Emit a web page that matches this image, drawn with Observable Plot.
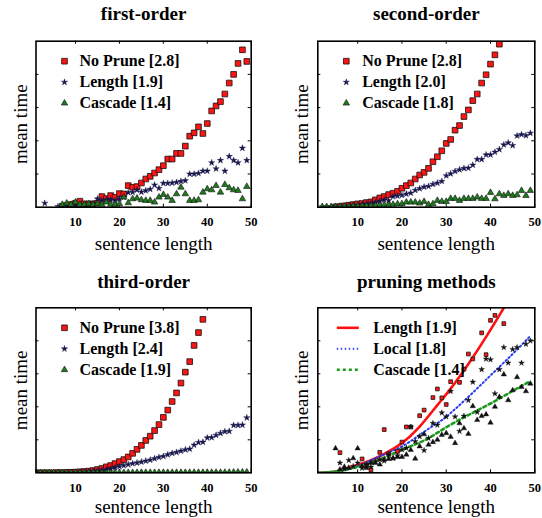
<!DOCTYPE html>
<html><head><meta charset="utf-8">
<script src="https://cdn.jsdelivr.net/npm/d3@7"></script>
<script src="https://cdn.jsdelivr.net/npm/@observablehq/plot@0.6"></script>
<style>
body{margin:0;background:#fff}
#chart{position:relative;width:542px;height:518px;overflow:hidden;background:#fff}
#chart svg{position:absolute}
</style>
</head><body><div id="chart"></div>
<script>
// ---------- axis ticks ----------
const xTicks = [10, 20, 30, 40, 50];
const yTicks = [1, 2, 3, 4];

// ---------- first-order ----------
const firstNoPruneX = [7,8,9,10,11,12,13,14,15,16,17,18,19,20,21,22,23,24,25,26,27,28,29,30,31,32,33,34,35,36,37,38,39,40,41,42,43,44,45,46,47,48,49];
const firstNoPrune  = [0.03,0.05,0.08,0.12,0.18,0.1,0.1,0.1,0.12,0.32,0.26,0.35,0.3,0.41,0.4,0.65,0.6,0.62,0.73,0.85,0.93,1.03,1.13,1.25,1.45,1.45,1.62,1.62,1.84,2.14,2.24,2.42,2.22,2.52,2.9,3.05,3.18,3.41,3.74,4.0,4.33,4.74,4.39];
const firstLengthX = [3,6,7,8,9,10,11,12,13,14,15,16,17,18,19,20,21,22,23,24,25,26,27,28,29,30,31,32,33,34,35,36,37,38,39,40,41,42,43,44,45,46,47,48,49];
const firstLength  = [0.12,0.02,0.03,0.04,0.05,0.06,0.07,0.06,0.08,0.1,0.25,0.2,0.22,0.22,0.2,0.25,0.3,0.44,0.45,0.52,0.46,0.5,0.54,0.67,0.57,0.72,0.72,0.73,0.75,0.78,0.8,1.0,1.0,1.02,1.09,1.09,1.34,1.16,1.41,1.09,1.53,1.41,1.34,1.78,1.41];
const firstCascadeX = [7,8,9,10,11,12,13,14,15,16,17,18,19,20,21,22,23,24,25,26,27,28,29,30,31,32,33,34,35,36,37,38,39,40,41,42,43,44,45,46,47,48,49];
const firstCascade  = [0.08,0.12,0.08,0.15,0.08,0.08,0.1,0.08,0.1,0.08,0.15,0.08,0.08,0.1,0.3,0.13,0.25,0.27,0.22,0.2,0.2,0.15,0.3,0.38,0.3,0.2,0.4,0.6,0.4,0.2,0.2,0.22,0.45,0.55,0.52,0.65,0.45,0.68,0.58,0.52,0.5,0.25,0.62];

// ---------- second-order ----------
const secondNoPruneX = [5,6,7,8,9,10,11,12,13,14,15,16,17,18,19,20,21,22,23,24,25,26,27,28,29,30,31,32,33,34,35,36,37,38,39,40,41,42];
const secondNoPrune  = [0.01,0.02,0.04,0.06,0.08,0.1,0.11,0.14,0.16,0.22,0.28,0.32,0.38,0.42,0.48,0.57,0.65,0.73,0.85,0.97,1.05,1.17,1.37,1.52,1.7,1.92,2.04,2.32,2.46,2.73,2.93,3.21,3.41,3.74,3.99,4.31,4.59,4.91];
const secondLengthX = [2,3,4,5,6,7,8,9,10,11,12,13,14,15,16,17,18,19,20,21,22,23,24,25,26,27,28,29,30,31,32,33,34,35,36,37,38,39,40,41,42,43,44,45,46,47,48,49];
const secondLength  = [0.01,0.01,0.01,0.02,0.02,0.03,0.04,0.05,0.06,0.08,0.1,0.12,0.15,0.18,0.22,0.2,0.32,0.34,0.36,0.4,0.43,0.51,0.56,0.61,0.63,0.69,0.73,0.78,0.95,1.01,1.08,1.13,1.17,1.18,1.27,1.44,1.44,1.58,1.58,1.66,1.74,1.88,1.94,1.86,2.15,2.19,2.16,2.23];
const secondCascadeX = [2,3,4,5,6,7,8,9,10,11,12,13,14,15,16,17,18,19,20,21,22,23,24,25,26,27,28,29,30,31,32,33,34,35,36,37,38,39,40,41,42,43,44,45,46,47,48,49];
const secondCascade  = [0.01,0.01,0.01,0.01,0.02,0.02,0.02,0.03,0.03,0.04,0.04,0.05,0.05,0.06,0.06,0.08,0.08,0.1,0.1,0.15,0.15,0.15,0.12,0.17,0.08,0.1,0.2,0.17,0.17,0.26,0.26,0.2,0.26,0.26,0.26,0.3,0.26,0.26,0.44,0.25,0.4,0.35,0.4,0.35,0.37,0.5,0.35,0.5];

// ---------- third-order ----------
const thirdNoPruneX = [1,2,3,4,5,6,7,8,9,10,11,12,13,14,15,16,17,18,19,20,21,22,23,24,25,26,27,28,29,30,31,32,33,34,35,36,37,38,39];
const thirdNoPrune  = [0,0,0,0,0,0.003,0.005,0.01,0.015,0.02,0.03,0.04,0.05,0.07,0.1,0.13,0.18,0.22,0.28,0.34,0.4,0.48,0.59,0.71,0.83,0.98,1.11,1.28,1.46,1.68,1.9,2.16,2.42,2.72,3.05,3.37,3.86,4.25,4.65];
const thirdLengthX = [1,2,3,4,5,6,7,8,9,10,11,12,13,14,15,16,17,18,19,20,21,22,23,24,25,26,27,28,29,30,31,32,33,34,35,36,37,38,39,40,41,42,43,44,45,46,47,48,49];
const thirdLength  = [0,0,0,0,0.002,0.003,0.005,0.008,0.01,0.015,0.02,0.025,0.035,0.045,0.06,0.08,0.1,0.13,0.16,0.19,0.22,0.25,0.28,0.3,0.33,0.36,0.39,0.43,0.47,0.5,0.55,0.59,0.62,0.66,0.7,0.72,0.84,0.92,0.93,1.06,1.07,1.14,1.2,1.25,1.26,1.44,1.44,1.45,1.67];
const thirdCascadeX = [1,2,3,4,5,6,7,8,9,10,11,12,13,14,15,16,17,18,19,20,21,22,23,24,25,26,27,28,29,30,31,32,33,34,35,36,37,38,39,40,41,42,43,44,45,46,47,48,49];
const thirdCascade  = [0,0,0,0,0,0,0,0,0,0.003,0.003,0.003,0.004,0.004,0.004,0.005,0.005,0.005,0.005,0.005,0.005,0.005,0.005,0.005,0.006,0.006,0.006,0.006,0.006,0.006,0.006,0.007,0.007,0.007,0.007,0.007,0.008,0.008,0.008,0.008,0.009,0.009,0.01,0.01,0.012,0.015,0.018,0.02,0.02];

// ---------- pruning methods ----------
const pruneLengthX = [6,11,12,13,15,16,17,19,20,21,22,24,25,27,28,29,30,31,33,34,35,36,38,39,40,41,43];
const pruneLength  = [0.61,0.42,0.22,0.09,0.62,1.31,0.58,0.65,0.93,1.39,1.39,1.73,1.9,2.28,2.54,2.27,2.07,2.76,2.74,3.14,3.6,3.45,4.24,3.58,4.62,4.77,4.52];
const pruneLocalX = [6,7,8,9,10,11,12,13,14,15,16,17,18,19,20,21,22,23,24,25,26,27,28,29,30,31,32,33,34,35,36,37,38,39,40,41,42,43,44,45,46,47,48,49];
const pruneLocal  = [0.3,0.12,0.38,0.2,0.3,0.14,0.25,0.18,0.34,0.4,0.36,0.55,0.44,0.52,0.7,0.75,1.39,0.95,1.1,0.68,1.05,1.5,1.45,1.82,1.7,2.47,1.7,1.26,1.72,2.2,2.75,1.84,3.13,3.45,3.43,2.4,3.13,3.8,3.33,3.74,3.8,3.33,3.9,4.0];
const pruneCascadeX = [5,6,7,8,9,10,11,12,13,14,15,16,17,18,19,20,21,22,23,24,25,26,27,28,29,30,31,32,33,34,35,36,37,38,39,40,41,42,43,44,45,46,47,48,49];
const pruneCascade  = [0.74,0.1,0.18,0.15,0.44,0.74,0.2,0.15,0.3,0.3,0.25,0.4,0.42,0.44,0.48,0.48,0.55,0.69,0.43,0.8,1.17,0.85,0.93,1.0,1.15,1.2,1.09,0.9,1.5,1.35,1.18,2.02,1.6,1.72,1.77,1.52,2.0,2.3,2.98,2.2,2.5,2.9,2.6,2.47,2.7];
// fitted curves
const fitLengthX = [1,5,10,13,16,20,24,28,31,35,39,43,44];
const fitLength  = [0,0.04,0.24,0.38,0.57,0.9,1.4,2.05,2.55,3.3,4.12,5.0,5.25];
const fitLocalX  = [1,5,10,15,20,24,27,30,35,40,45,49];
const fitLocal   = [0,0.03,0.2,0.5,0.8,1.15,1.42,1.7,2.3,2.95,3.6,4.15];
const fitCascadeX = [1,5,10,16,20,25,30,35,40,45,49];
const fitCascade  = [0,0.04,0.18,0.46,0.7,0.98,1.38,1.75,2.1,2.48,2.78];

// ---------- styling ----------
const FONT = "'Liberation Serif', 'Times New Roman', serif";
const RED = "#ff1414", NAVY = "#16164c", GREEN = "#1f7a1f";
const W = 271, H = 259;
const sq  = {symbol: "square",   r: 3.2, fill: RED,   stroke: "#111", strokeWidth: 0.8};
const st  = {symbol: "star",     r: 2.0, fill: NAVY,  stroke: NAVY,   strokeWidth: 0.4};
const tri = {symbol: "triangle", r: 2.4, fill: GREEN, stroke: "#111", strokeWidth: 0.6};
const sq4  = {symbol: "square",   r: 2.1, fill: RED,   stroke: "#111", strokeWidth: 0.8};
const st4  = {symbol: "star",     r: 1.8, fill: "#111", stroke: "#111", strokeWidth: 0.4};
const tri4 = {symbol: "triangle", r: 2.0, fill: "#111", stroke: "#111", strokeWidth: 0.4};
const seg = {draw(ctx) { ctx.moveTo(-11, 0); ctx.lineTo(11, 0); }};

function pairs(xs, ys) { return xs.map((x, i) => ({x, y: ys[i]})); }

function panel(cfg) {
  const fw = W - cfg.mL - cfg.mR, fh = H - cfg.mT - cfg.mB;
  const marks = [
    Plot.tickX(xTicks, {x: d => d, insetTop: fh - 3, stroke: "#000"}),
    Plot.tickX(xTicks, {x: d => d, insetBottom: fh - 3, stroke: "#000"}),
    Plot.tickY(yTicks, {y: d => d, insetRight: fw - 3, stroke: "#000"}),
    Plot.tickY(yTicks, {y: d => d, insetLeft: fw - 3, stroke: "#000"})
  ];
  (cfg.lines || []).forEach(l => marks.push(
    Plot.line(pairs(l.x, l.y), {x: "x", y: "y", curve: "natural", clip: true,
      stroke: l.stroke, strokeWidth: l.sw, strokeDasharray: l.dash})));
  cfg.series.forEach(s => marks.push(
    Plot.dot(pairs(s.x, s.y), {x: "x", y: "y", clip: true, ...s.style})));
  marks.push(Plot.frame({stroke: "#000", strokeWidth: 1.6}));
  marks.push(Plot.axisX({ticks: xTicks, tickSize: 0, tickPadding: 10, fontSize: 12.5,
    fontWeight: "bold", label: null}));
  marks.push(Plot.text([cfg.title], {text: d => d, frameAnchor: "top", lineAnchor: "middle",
    dy: cfg.titleDy, fontSize: 19, fontWeight: "bold"}));
  marks.push(Plot.text(["sentence length"], {text: d => d, frameAnchor: "bottom", lineAnchor: "middle",
    dy: cfg.xlabDy, dx: 10, fontSize: 19}));
  marks.push(Plot.text(["mean time"], {text: d => d, frameAnchor: "left", textAnchor: "middle",
    lineAnchor: "middle", dx: -15.5, rotate: -90, fontSize: 19}));
  cfg.legend.forEach((it, i) => {
    const dy = 20 + i * 21;
    if (it.line) {
      marks.push(Plot.dot([0], {frameAnchor: "top-left", dx: 30, dy, symbol: seg, fill: "none",
        stroke: it.line.stroke, strokeWidth: it.line.sw, strokeDasharray: it.line.dash}));
    } else {
      marks.push(Plot.dot([0], {frameAnchor: "top-left", dx: 28.5, dy, ...it.style}));
    }
    marks.push(Plot.text([it.label], {text: d => d, frameAnchor: "top-left", dx: cfg.legTextX, dy,
      textAnchor: "start", lineAnchor: "middle", fontSize: 16, fontWeight: "bold"}));
  });
  const svg = Plot.plot({
    width: W, height: H,
    marginLeft: cfg.mL, marginRight: cfg.mR, marginTop: cfg.mT, marginBottom: cfg.mB,
    x: {domain: [1, 50], label: null},
    y: {domain: [0, 5], axis: null},
    style: {fontFamily: FONT, background: "transparent", overflow: "visible", color: "#000"},
    marks
  });
  svg.style.left = cfg.left + "px";
  svg.style.top = cfg.top + "px";
  document.getElementById("chart").appendChild(svg);
}

const lineLength  = {stroke: "#ff1010", sw: 2.6, dash: null};
const lineLocal   = {stroke: "#2a3cf0", sw: 2.0, dash: "1.4,2.6"};
const lineCascade = {stroke: "#1d9a1d", sw: 2.6, dash: "3,3"};

panel({title: "first-order", left: 0, top: 0, mL: 35.5, mR: 20.3, mT: 40.7, mB: 52.3,
  titleDy: -26.8, xlabDy: 37.2, legTextX: 43.5,
  series: [
    {x: firstNoPruneX, y: firstNoPrune, style: sq},
    {x: firstLengthX, y: firstLength, style: st},
    {x: firstCascadeX, y: firstCascade, style: tri}],
  legend: [
    {label: "No Prune [2.8]", style: sq},
    {label: "Length [1.9]", style: st},
    {label: "Cascade [1.4]", style: tri}]
});
panel({title: "second-order", left: 271, top: 0, mL: 46.3, mR: 7.7, mT: 40.7, mB: 52.3,
  titleDy: -26.8, xlabDy: 37.2, legTextX: 44.4,
  series: [
    {x: secondNoPruneX, y: secondNoPrune, style: sq},
    {x: secondLengthX, y: secondLength, style: st},
    {x: secondCascadeX, y: secondCascade, style: tri}],
  legend: [
    {label: "No Prune [2.8]", style: sq},
    {label: "Length [2.0]", style: st},
    {label: "Cascade [1.8]", style: tri}]
});
panel({title: "third-order", left: 0, top: 259, mL: 35.5, mR: 20.3, mT: 48.3, mB: 45.7,
  titleDy: -25.4, xlabDy: 34.2, legTextX: 43.5,
  series: [
    {x: thirdNoPruneX, y: thirdNoPrune, style: sq},
    {x: thirdLengthX, y: thirdLength, style: st},
    {x: thirdCascadeX, y: thirdCascade, style: tri}],
  legend: [
    {label: "No Prune [3.8]", style: sq},
    {label: "Length [2.4]", style: st},
    {label: "Cascade [1.9]", style: tri}]
});
panel({title: "pruning methods", left: 271, top: 259, mL: 46.3, mR: 7.7, mT: 48.3, mB: 45.7,
  titleDy: -25.4, xlabDy: 34.2, legTextX: 55.4,
  lines: [
    {x: fitLengthX, y: fitLength, ...lineLength},
    {x: fitLocalX, y: fitLocal, ...lineLocal},
    {x: fitCascadeX, y: fitCascade, ...lineCascade}],
  series: [
    {x: pruneLengthX, y: pruneLength, style: sq4},
    {x: pruneLocalX, y: pruneLocal, style: st4},
    {x: pruneCascadeX, y: pruneCascade, style: tri4}],
  legend: [
    {label: "Length [1.9]", line: lineLength},
    {label: "Local [1.8]", line: lineLocal},
    {label: "Cascade [1.4]", line: lineCascade}]
});
</script>
</body></html>
